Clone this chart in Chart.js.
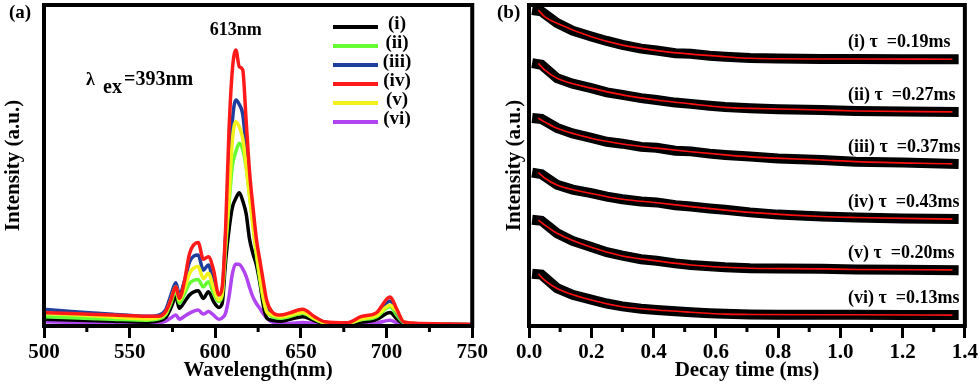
<!DOCTYPE html>
<html>
<head>
<meta charset="utf-8">
<script src="https://cdn.jsdelivr.net/npm/chart.js@4.4.0/dist/chart.umd.min.js"></script>
<style>
    html, body { margin: 0; padding: 0; background: #fff; }
    #wrap { position: relative; width: 980px; height: 387px; }
    canvas { position: absolute; top: 0; }
    #chart-spectra { left: 0; }
    #chart-decay { left: 490px; }
</style>
</head>
<body>
<div id="wrap">
    <canvas id="chart-spectra" width="490" height="387"></canvas>
    <canvas id="chart-decay" width="490" height="387"></canvas>
</div>
<script>
'use strict';

// ---- (a) emission spectra, excitation 393 nm ----
const wavelengths = [500, 520, 540, 560, 567, 571, 574, 577, 579, 582,
    585, 590, 593, 596, 599, 602, 604, 606, 608, 610,
    612, 614, 616, 618, 620, 622, 624, 626, 628, 630,
    633, 638, 643, 651, 658, 664, 677, 685, 694, 702,
    706, 710, 720, 735, 750];

const specI = [2.1, 1.8, 1.5, 1.2, 1.6, 2.6, 5.5, 9.1, 5.5, 7.5,
    9.7, 11.0, 8.6, 10.7, 7.6, 5.8, 7.0, 20.0, 30.0, 37.0,
    39.8, 41.5, 39.0, 35.0, 27.0, 22.5, 19.0, 13.5, 6.5, 2.5,
    1.8, 1.5, 2.0, 2.9, 1.6, 0.8, 0.7, 1.2, 2.0, 4.2,
    2.2, 0.7, 0.5, 0.4, 0.4];
const specII = [2.9, 2.5, 2.1, 1.8, 2.2, 3.5, 7.0, 11.2, 7.1, 10.0,
    13.3, 14.5, 12.2, 13.8, 10.2, 7.6, 9.5, 24.0, 38.0, 50.0,
    54.3, 56.9, 55.0, 49.5, 40.5, 31.5, 22.0, 14.5, 8.5, 4.5,
    3.0, 2.4, 2.9, 4.0, 2.1, 1.0, 0.8, 1.9, 2.8, 6.0,
    3.3, 1.0, 0.6, 0.5, 0.4];
const specIII = [5.2, 4.4, 3.7, 3.0, 3.4, 5.0, 9.5, 13.5, 9.7, 14.0,
    20.0, 22.1, 17.4, 19.0, 13.3, 9.7, 11.0, 28.0, 45.0, 64.0,
    70.4, 69.0, 66.0, 55.5, 43.0, 33.5, 25.0, 17.5, 10.5, 6.0,
    4.0, 3.0, 3.5, 4.6, 2.6, 1.2, 0.9, 2.5, 3.5, 7.8,
    4.2, 1.2, 0.7, 0.6, 0.5];
const specIV = [4.2, 3.8, 3.4, 3.0, 3.0, 4.5, 8.0, 12.2, 8.6, 14.0,
    22.6, 26.0, 20.8, 21.6, 17.4, 9.7, 12.0, 30.0, 61.0, 80.0,
    86.0, 80.8, 79.8, 64.0, 48.0, 37.0, 27.0, 20.5, 14.0, 8.0,
    4.5, 3.4, 4.0, 5.2, 2.9, 1.3, 1.0, 2.9, 4.1, 9.0,
    5.2, 1.3, 0.8, 0.6, 0.5];
const specV = [4.0, 3.4, 2.8, 2.2, 2.6, 4.0, 8.0, 12.2, 8.1, 11.5,
    16.4, 18.5, 14.8, 16.4, 11.7, 8.1, 10.0, 26.0, 40.0, 58.0,
    63.6, 62.0, 58.5, 50.0, 40.5, 31.0, 23.0, 15.5, 9.0, 4.5,
    3.5, 2.8, 3.3, 4.3, 2.3, 1.1, 0.9, 2.2, 3.2, 6.5,
    4.5, 1.3, 0.7, 0.5, 0.4];
const specVI = [1.3, 1.1, 1.0, 0.8, 1.0, 1.5, 2.5, 3.4, 2.1, 3.0,
    4.0, 5.0, 3.7, 4.5, 3.4, 2.1, 2.5, 4.0, 9.1, 16.4,
    19.3, 19.2, 17.8, 15.5, 12.0, 9.0, 7.0, 5.5, 3.8, 2.5,
    1.3, 0.8, 0.8, 1.1, 0.8, 0.5, 0.5, 0.6, 0.9, 1.8,
    1.0, 0.5, 0.4, 0.3, 0.3];

const seriesNames = ['(i)', '(ii)', '(iii)', '(iv)', '(v)', '(vi)'];
const seriesColors = ['#000000', '#66ff33', '#1f3f9f', '#ff1a1a', '#f2f21a', '#b044f0'];
const seriesOrder = [4, 3, 2, 0, 1, 5];

// ---- (b) decay curves (measured + fit) ----
const decayTimes = [0.01, 0.04, 0.09, 0.14, 0.2, 0.25, 0.3, 0.36, 0.41, 0.47,
    0.52, 0.58, 0.63, 0.71, 0.8, 0.94, 1.05, 1.2, 1.38];
const decayI = [98.4, 98.0, 94.4, 92.0, 90.2, 88.8, 87.6, 86.4, 85.8, 85.0,
    84.8, 84.2, 83.9, 83.5, 83.3, 83.2, 83.2, 83.1, 83.1];
const decayII = [81.9, 81.4, 77.2, 75.5, 74.1, 72.8, 72.0, 71.0, 70.4, 69.6,
    69.2, 68.6, 68.2, 67.8, 67.5, 67.3, 67.0, 66.8, 66.7];
const decayIII = [64.8, 64.5, 61.7, 60.0, 58.6, 57.4, 56.8, 55.8, 55.5, 54.6,
    54.4, 53.7, 53.3, 52.8, 52.2, 51.7, 51.2, 50.9, 50.5];
const decayIV = [47.8, 47.3, 44.0, 42.5, 41.4, 40.3, 39.5, 38.8, 38.5, 37.6,
    37.2, 36.6, 36.2, 35.4, 34.7, 34.1, 33.8, 33.5, 33.3];
const decayV = [33.1, 32.8, 28.9, 26.5, 24.6, 23.0, 21.9, 20.8, 20.3, 19.5,
    19.0, 18.6, 18.3, 18.0, 17.9, 17.8, 17.6, 17.5, 17.4];
const decayVI = [16.3, 16.0, 11.8, 9.7, 8.2, 7.0, 6.1, 5.4, 5.0, 4.6,
    4.3, 4.0, 3.8, 3.6, 3.5, 3.5, 3.5, 3.4, 3.4];

const fitTimes = [0.03, 0.05, 0.09, 0.2, 0.3, 0.41, 0.52, 0.63, 0.71, 0.94, 1.05, 1.36];
const fitI = [98.4, 96.4, 94.3, 90.1, 87.5, 85.8, 84.7, 83.9, 83.4, 83.2, 83.2, 83.1];
const fitII = [81.8, 79.8, 77.2, 74.1, 72.0, 70.4, 69.2, 68.1, 67.8, 67.3, 67.0, 66.7];
const fitIII = [64.7, 63.6, 61.6, 58.5, 56.7, 55.4, 54.3, 53.3, 52.7, 51.7, 51.2, 50.5];
const fitIV = [47.8, 46.1, 43.9, 41.3, 39.5, 38.4, 37.2, 36.1, 35.4, 34.1, 33.8, 33.3];
const fitV = [33.0, 31.5, 28.9, 24.5, 21.8, 20.3, 19.0, 18.3, 18.0, 17.8, 17.6, 17.5];
const fitVI = [16.2, 14.3, 11.7, 8.1, 6.0, 5.0, 4.3, 3.7, 3.6, 3.5, 3.5, 3.4];

const decayLabels = ['(i) τ  =0.19ms', '(ii) τ  =0.27ms', '(iii) τ  =0.37ms',
    '(iv) τ  =0.43ms', '(v) τ  =0.20ms', '(vi) τ  =0.13ms'];


const SERIF = '"Liberation Serif", "Times New Roman", serif';
Chart.defaults.font.family = SERIF;
Chart.defaults.font.weight = 'bold';
Chart.defaults.color = '#000';

function serif(size) {
    return 'bold ' + size + 'px ' + SERIF;
}

function toPoints(xs, ys) {
    return xs.map((x, k) => ({x: x, y: ys[k]}));
}

/**
 * Thick box round the plot area plus the short minor ticks
 */
const framePlugin = {
    id: 'frame',
    afterDraw(chart, args, opts) {
        const {ctx, chartArea: a} = chart;
        const xs = chart.scales.x;
        ctx.save();
        ctx.strokeStyle = '#000';
        ctx.lineWidth = 3;
        xs.ticks.forEach(t => {
            if (opts.isMajor(t.value)) return;
            const px = xs.getPixelForValue(t.value);
            ctx.beginPath();
            ctx.moveTo(px, a.bottom);
            ctx.lineTo(px, a.bottom + 6);
            ctx.stroke();
        });
        ctx.lineWidth = 4;
        ctx.strokeRect(a.left, a.top, a.right - a.left, a.bottom - a.top);
        ctx.font = serif(19);
        ctx.fillStyle = '#000';
        ctx.textBaseline = 'alphabetic';
        ctx.fillText(opts.panel, opts.panelX, 18);
        ctx.restore();
    }
};

function xAxis(min, max, step, isMajor, fmt, title) {
    return {
        type: 'linear',
        min: min,
        max: max,
        afterFit(scale) { scale.height = 61; },
        border: {display: false},
        grid: {
            display: true,
            drawOnChartArea: false,
            drawTicks: true,
            tickLength: 12,
            tickWidth: 3,
            tickColor: ctx => isMajor(ctx.tick.value) ? '#000' : 'rgba(0,0,0,0)'
        },
        ticks: {
            stepSize: step,
            autoSkip: false,
            maxRotation: 0,
            padding: 2,
            color: '#000',
            font: {size: 21, weight: 'bold'},
            callback: v => isMajor(v) ? fmt(v) : ''
        },
        title: {
            display: true,
            text: title,
            color: '#000',
            font: {size: 21, weight: 'bold'},
            padding: {top: 0, bottom: 4}
        }
    };
}

function yAxis(width, titlePad) {
    return {
        type: 'linear',
        min: 0,
        max: 100,
        afterFit(scale) { scale.width = width; },
        border: {display: false},
        grid: {display: false},
        ticks: {display: false},
        title: {
            display: true,
            text: 'Intensity (a.u.)',
            color: '#000',
            font: {size: 21, weight: 'bold'},
            padding: {top: titlePad, bottom: 0}
        }
    };
}

/**
 * Panel (a) annotations: legend, peak label, excitation label
 */
const spectraNotes = {
    id: 'spectraNotes',
    afterDraw(chart) {
        const {ctx} = chart;
        const xs = chart.scales.x;
        const ys = chart.scales.y;
        ctx.save();
        ctx.fillStyle = '#000';

        // legend
        seriesNames.forEach((name, i) => {
            const ly = 27 + i * 19;
            ctx.strokeStyle = seriesColors[i];
            ctx.lineWidth = 4;
            ctx.beginPath();
            ctx.moveTo(333, ly);
            ctx.lineTo(378, ly);
            ctx.stroke();
            ctx.font = serif(19);
            ctx.textAlign = 'center';
            ctx.textBaseline = 'middle';
            ctx.fillText(name, 397, ly - 3);
        });

        // peak label over the strongest point
        const top = Math.max(...specIV);
        const peakW = wavelengths[specIV.indexOf(top)];
        ctx.font = serif(18);
        ctx.textAlign = 'center';
        ctx.textBaseline = 'alphabetic';
        ctx.fillText('613nm', xs.getPixelForValue(peakW), ys.getPixelForValue(top) - 15);

        // excitation wavelength
        ctx.textAlign = 'left';
        ctx.font = serif(18);
        ctx.fillText('λ', 86, 85);
        ctx.font = serif(20);
        ctx.fillText('ex', 103, 93);
        ctx.fillText('=393nm', 124, 85);
        ctx.restore();
    }
};

/**
 * Panel (b) lifetime labels, sitting over the tail of each fit
 */
const decayNotes = {
    id: 'decayNotes',
    afterDatasetsDraw(chart) {
        const {ctx, chartArea: a} = chart;
        const ys = chart.scales.y;
        const fits = [fitI, fitII, fitIII, fitIV, fitV, fitVI];
        ctx.save();
        ctx.beginPath();
        ctx.rect(a.left, a.top, a.right - a.left, a.bottom - a.top);
        ctx.clip();
        ctx.fillStyle = '#000';
        ctx.font = serif(18);
        ctx.textAlign = 'left';
        ctx.textBaseline = 'alphabetic';
        fits.forEach((f, i) => {
            ctx.fillText(decayLabels[i], 358, ys.getPixelForValue(f[f.length - 1]) - 12);
        });
        ctx.restore();
    }
};

(function initSpectra() {
    const sets = [specI, specII, specIII, specIV, specV, specVI];
    const isMajor = v => Math.round(v) % 50 === 0;
    new Chart(document.getElementById('chart-spectra'), {
        type: 'line',
        data: {
            datasets: sets.map((vals, i) => ({
                label: seriesNames[i],
                data: toPoints(wavelengths, vals),
                borderColor: seriesColors[i],
                borderWidth: 3.5,
                pointRadius: 0,
                cubicInterpolationMode: 'monotone',
                order: seriesOrder[i]
            }))
        },
        options: {
            responsive: false,
            animation: false,
            layout: {padding: {top: 5, right: 16, left: 0, bottom: 0}},
            plugins: {
                legend: {display: false},
                tooltip: {enabled: false},
                frame: {isMajor: isMajor, panel: '(a)', panelX: 9}
            },
            scales: {
                x: xAxis(500, 750, 25, isMajor, v => String(v), 'Wavelength(nm)'),
                y: yAxis(44, 1)
            }
        },
        plugins: [framePlugin, spectraNotes]
    });
})();

(function initDecay() {
    const measured = [decayI, decayII, decayIII, decayIV, decayV, decayVI];
    const fits = [fitI, fitII, fitIII, fitIV, fitV, fitVI];
    const isMajor = v => Math.round(v * 10) % 2 === 0;
    const datasets = [];
    measured.forEach((vals, i) => {
        datasets.push({
            label: 'data ' + seriesNames[i],
            data: toPoints(decayTimes, vals),
            borderColor: '#000',
            borderWidth: 10,
            borderCapStyle: 'butt',
            borderJoinStyle: 'miter',
            pointRadius: 0,
            tension: 0,
            order: 1
        });
    });
    fits.forEach((vals, i) => {
        datasets.push({
            label: 'fit ' + seriesNames[i],
            data: toPoints(fitTimes, vals),
            borderColor: '#ff1010',
            borderWidth: 1.6,
            pointRadius: 0,
            cubicInterpolationMode: 'monotone',
            order: 0
        });
    });
    new Chart(document.getElementById('chart-decay'), {
        type: 'line',
        data: {datasets: datasets},
        options: {
            responsive: false,
            animation: false,
            layout: {padding: {top: 5, right: 15, left: 0, bottom: 0}},
            plugins: {
                legend: {display: false},
                tooltip: {enabled: false},
                frame: {isMajor: isMajor, panel: '(b)', panelX: 7}
            },
            scales: {
                x: xAxis(0, 1.4, 0.1, isMajor, v => v.toFixed(1), 'Decay time (ms)'),
                y: yAxis(39, 12)
            }
        },
        plugins: [framePlugin, decayNotes]
    });
})();
</script>
</body>
</html>
